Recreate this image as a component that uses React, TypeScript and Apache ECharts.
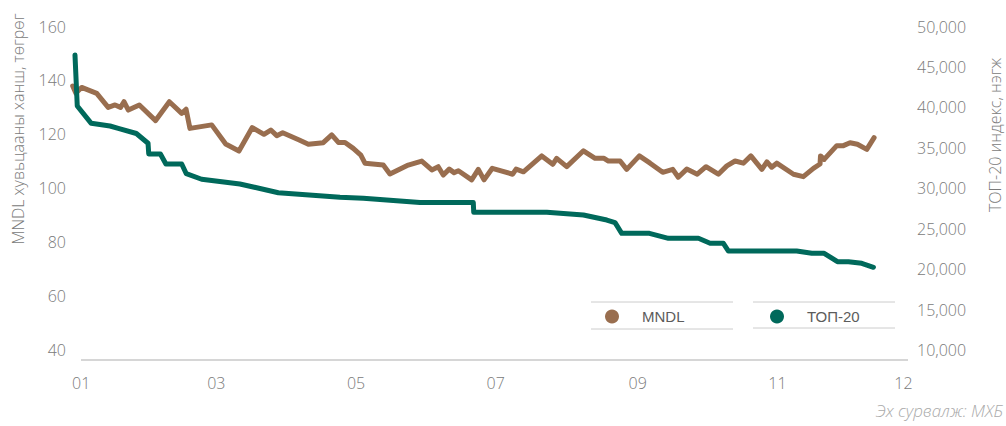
import React, { useEffect, useRef } from "react";
import * as echarts from "echarts";

// Day of year (0 = 1 Jan) and values
const mndlDays = [-3.7, -2.3, 0.2, 6.8, 11.8, 14.8, 17.2, 18.7, 20.6, 25.4, 32.5, 38.5, 43.9, 45.8, 47.5, 57.0, 63.1, 68.9, 74.7, 79.8, 82.8, 85.4, 88.0, 95.2, 99.2, 105.7, 109.4, 112.3, 115.2, 118.8, 122.1, 123.9, 131.9, 134.8, 142.8, 148.7, 153.1, 155.9, 158.1, 160.7, 162.8, 164.7, 170.5, 173.4, 175.9, 179.5, 188.4, 189.9, 193.1, 201.1, 205.9, 207.6, 212.0, 219.3, 224.4, 228.3, 230.2, 235.3, 238.2, 243.7, 248.4, 253.9, 258.3, 260.7, 264.4, 269.0, 272.8, 278.2, 281.9, 285.5, 289.1, 292.4, 297.2, 299.4, 301.5, 303.7, 311.0, 315.3, 319.7, 322.6, 322.8, 324.4, 329.9, 332.8, 335.7, 338.9, 343.0, 346.2];
const mndlValues = [137.9, 135.3, 137.4, 135.2, 130.0, 130.9, 130.0, 132.1, 129.0, 130.9, 125.1, 132.1, 127.8, 129.3, 122.2, 123.5, 116.4, 113.8, 122.5, 120.0, 121.6, 119.5, 120.6, 117.9, 116.3, 116.9, 119.8, 117.0, 117.0, 114.8, 112.3, 109.3, 108.6, 105.3, 108.6, 110.1, 106.8, 108.0, 104.9, 107.1, 105.8, 106.5, 103.1, 107.0, 103.1, 107.4, 105.2, 107.1, 106.1, 112.0, 108.9, 111.1, 108.0, 113.9, 111.1, 111.1, 110.1, 110.1, 107.0, 112.0, 109.3, 105.9, 107.0, 104.1, 107.1, 105.2, 108.0, 105.2, 108.3, 110.1, 109.3, 112.0, 107.0, 109.8, 107.8, 109.3, 105.2, 104.3, 107.4, 109.0, 112.0, 110.7, 115.8, 115.8, 116.9, 116.3, 114.4, 118.8];

const topDays = [-2.7, -1.7, 4.4, 12.6, 16.2, 24.1, 29.2, 29.5, 34.6, 37.0, 43.9, 45.9, 52.6, 69.3, 86.1, 113.0, 123.2, 147.9, 171.2, 171.4, 203.3, 219.3, 229.5, 233.1, 236.0, 248.1, 256.4, 269.5, 274.6, 280.4, 282.6, 312.4, 319.0, 324.4, 330.2, 335.0, 340.8, 345.9];
const topValues = [46480, 40170, 38030, 37700, 37410, 36770, 35560, 34240, 34240, 33000, 33000, 31800, 31110, 30530, 29450, 28880, 28760, 28250, 28250, 27030, 27030, 26690, 26070, 25740, 24430, 24430, 23810, 23810, 23190, 23190, 22240, 22240, 21960, 21960, 20920, 20920, 20720, 20230];

const xTickDays = [0, 59, 120, 181, 243, 304, 359];
const xTickLabels = ["01", "03", "05", "07", "09", "11", "12"];

const seriesNames = ["MNDL", "ТОП-20"];
const leftAxisName = "MNDL хувьцааны ханш, төгрөг";
const rightAxisName = "ТОП-20 индекс, нэгж";
const sourceNote = "Эх сурвалж: МХБ";

const BROWN = "#996E4F";
const TEAL = "#00695B";
const LABEL = "#7a7a7a";
const FONT = "'Open Sans', sans-serif";

export default function App() {
  const ref = useRef<HTMLDivElement>(null);
  useEffect(() => {
    document.body.style.margin = "0";
    const chart = echarts.init(ref.current!, null, { renderer: "svg" });
    const mndlData = mndlDays.map((d, i) => [d, mndlValues[i]]);
    const topData = topDays.map((d, i) => [d, topValues[i]]);
    const axisLabelStyle = { color: LABEL, fontSize: 16, fontFamily: FONT, fontWeight: 300 };
    const legendCommon = {
      orient: "horizontal",
      top: 309,
      padding: 0,
      icon: "circle",
      itemWidth: 14,
      itemHeight: 14,
      textStyle: { color: "#5c5c5c", fontSize: 15, fontWeight: "normal", fontFamily: "'Liberation Sans', Arial, sans-serif", padding: [0, 0, 0, 18] },
    };
    chart.setOption({
      animation: false,
      grid: { left: 72, right: 98, top: 26.5, bottom: 76 },
      legend: [
        { ...legendCommon, left: 605, data: [seriesNames[0]] },
        { ...legendCommon, left: 770, data: [seriesNames[1]] },
      ],
      xAxis: {
        type: "value",
        min: -4,
        max: 361,
        splitLine: { show: false },
        axisLine: { show: false },
        axisTick: { show: false },
        axisLabel: {
          ...axisLabelStyle,
          margin: 25,
          customValues: xTickDays,
          formatter: (v: number) => {
            const i = xTickDays.indexOf(v);
            return i >= 0 ? xTickLabels[i] : "";
          },
        },
      },
      yAxis: [
        {
          type: "value",
          min: 40,
          max: 160,
          interval: 20,
          splitLine: { show: false },
          axisLine: { show: false },
          axisTick: { show: false },
          axisLabel: { ...axisLabelStyle, margin: 6 },
        },
        {
          type: "value",
          min: 10000,
          max: 50000,
          interval: 5000,
          position: "right",
          splitLine: { show: false },
          axisLine: { show: false },
          axisTick: { show: false },
          axisLabel: {
            ...axisLabelStyle,
            margin: 9,
            formatter: (v: number) => v.toLocaleString("en-US"),
          },
        },
      ],
      graphic: [
        { type: "line", shape: { x1: 81, y1: 360, x2: 908, y2: 360 }, style: { stroke: "#d6d6d6", lineWidth: 2 }, silent: true },
        { type: "line", shape: { x1: 591, y1: 302, x2: 733, y2: 302 }, style: { stroke: "#cccccc", lineWidth: 1 } },
        { type: "line", shape: { x1: 591, y1: 329, x2: 733, y2: 329 }, style: { stroke: "#cccccc", lineWidth: 1 } },
        { type: "line", shape: { x1: 753, y1: 302, x2: 895, y2: 302 }, style: { stroke: "#cccccc", lineWidth: 1 } },
        { type: "line", shape: { x1: 753, y1: 328, x2: 895, y2: 328 }, style: { stroke: "#cccccc", lineWidth: 1 } },
        {
          type: "text",
          x: 18,
          y: 129,
          rotation: Math.PI / 2,
          style: { text: leftAxisName, fill: LABEL, fontSize: 16, fontFamily: FONT, fontWeight: 300, textAlign: "center", textVerticalAlign: "middle" },
        },
        {
          type: "text",
          x: 995,
          y: 135,
          rotation: Math.PI / 2,
          style: { text: rightAxisName, fill: LABEL, fontSize: 16, fontFamily: FONT, fontWeight: 300, textAlign: "center", textVerticalAlign: "middle" },
        },
        {
          type: "text",
          right: 3,
          top: 402,
          style: { text: sourceNote, fill: "#aaaaaa", fontSize: 17, fontFamily: FONT, fontWeight: 300, fontStyle: "italic" },
        },
      ],
      series: [
        {
          name: seriesNames[0],
          type: "line",
          yAxisIndex: 0,
          data: mndlData,
          symbol: "none",
          color: BROWN,
          lineStyle: { width: 5, color: BROWN, cap: "round", join: "round" },
        },
        {
          name: seriesNames[1],
          type: "line",
          yAxisIndex: 1,
          data: topData,
          symbol: "none",
          color: TEAL,
          lineStyle: { width: 5, color: TEAL, cap: "round", join: "round" },
        },
      ],
    });
    return () => chart.dispose();
  }, []);
  return <div ref={ref} style={{ width: 1006, height: 426 }} />;
}
